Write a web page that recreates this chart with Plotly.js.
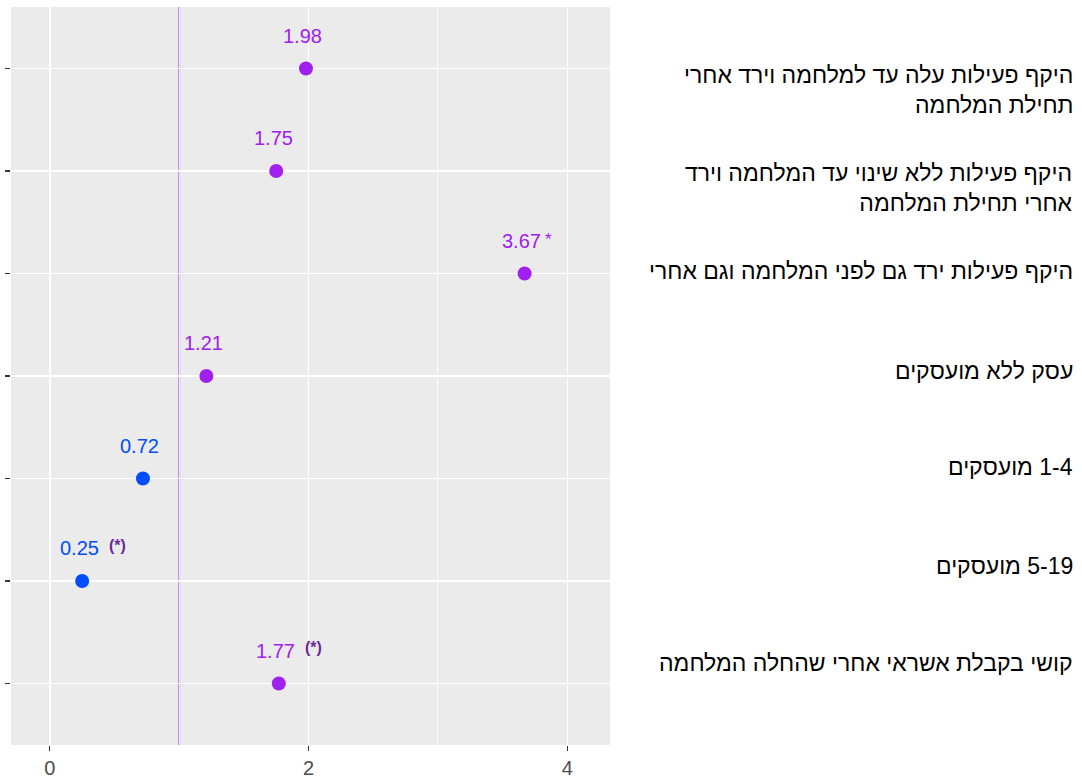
<!DOCTYPE html>
<html>
<head>
<meta charset="utf-8">
<script src="https://cdn.plot.ly/plotly-3.0.1.min.js"></script>
<style>
  body { margin: 0; background: #fff; }
  #plot { width: 1082px; height: 783px; }
</style>
</head>
<body>
<div id="plot"></div>
<script>
// rows, top to bottom
var categories = [
  "היקף פעילות עלה עד למלחמה וירד אחרי<br>תחילת המלחמה",
  "היקף פעילות ללא שינוי עד המלחמה וירד<br>אחרי תחילת המלחמה",
  "היקף פעילות ירד גם לפני המלחמה וגם אחרי",
  "עסק ללא מועסקים",
  "\u202B1-4 מועסקים\u202C",
  "\u202B5-19 מועסקים\u202C",
  "קושי בקבלת אשראי אחרי שהחלה המלחמה"
];
var values = [1.98, 1.75, 3.67, 1.21, 0.72, 0.25, 1.77];
var flags = ["", "", "*", "", "", "(*)", "(*)"];
var group = ["a", "a", "a", "a", "b", "b", "a"];

var colors = { a: "#A020F0", b: "#004DFF" };
var flagColor = { "*": "#A020F0", "(*)": "#6A2A95" };
// label offsets in the right-hand text column
var labelShift = [-21, -17, 3, 5, 12, 15, 21];

var trace = {
  x: values,
  y: categories,
  type: "scatter",
  mode: "markers",
  marker: { size: 14, color: group.map(function (g) { return colors[g]; }) },
  hoverinfo: "x",
  showlegend: false
};

var annotations = [];
values.forEach(function (v, i) {
  annotations.push({
    x: v, y: categories[i], xref: "x", yref: "y",
    text: v.toFixed(2), showarrow: false,
    xshift: -3, yshift: 33,
    font: { family: "Liberation Sans, Arial, sans-serif", size: 20, color: colors[group[i]] }
  });
  if (flags[i]) {
    var star = flags[i] === "*";
    annotations.push({
      x: v, y: categories[i], xref: "x", yref: "y",
      text: star ? flags[i] : "<b>" + flags[i] + "</b>", showarrow: false,
      xshift: star ? 24 : 35, yshift: star ? 34 : 36,
      font: { family: "Liberation Sans, Arial, sans-serif", size: star ? 17 : 16, color: flagColor[flags[i]] }
    });
  }
  annotations.push({
    x: 1.776, xref: "paper", xanchor: "right",
    y: categories[i], yref: "y", yanchor: "middle", yshift: labelShift[i],
    text: categories[i], align: "right", showarrow: false,
    font: { family: "Liberation Sans, Arial, sans-serif", size: 23, color: "#000" }
  });
});

var layout = {
  width: 1082,
  height: 783,
  margin: { l: 11, r: 472, t: 7, b: 38 },
  paper_bgcolor: "#FFFFFF",
  plot_bgcolor: "#EBEBEB",
  font: { family: "Liberation Sans, Arial, sans-serif", size: 20, color: "#4D4D4D" },
  xaxis: {
    range: [-0.3, 4.33],
    tickvals: [0, 2, 4],
    ticktext: ["0", "2", "4"],
    ticks: "outside", ticklen: 5, tickwidth: 1.2, tickcolor: "#333333",
    tickfont: { size: 20, color: "#4D4D4D" },
    showgrid: true, gridcolor: "#FFFFFF", gridwidth: 1.5,
    minor: { tickvals: [1, 3], showgrid: true, gridcolor: "#FFFFFF", gridwidth: 0.8, ticks: "" },
    zeroline: false, showline: false, fixedrange: true
  },
  yaxis: {
    type: "category",
    categoryorder: "array",
    categoryarray: categories,
    range: [6.6, -0.6],
    showticklabels: false,
    ticks: "outside", ticklen: 5, tickwidth: 1.2, tickcolor: "#333333",
    showgrid: true, gridcolor: "#FFFFFF", gridwidth: 1.5,
    zeroline: false, showline: false, fixedrange: true
  },
  shapes: [{
    type: "line", xref: "x", yref: "paper",
    x0: 1, x1: 1, y0: 0, y1: 1,
    line: { color: "#B86CEC", width: 1.8 },
    layer: "below"
  }],
  annotations: annotations
};

Plotly.newPlot("plot", [trace], layout, { displayModeBar: false, staticPlot: true });
</script>
</body>
</html>
